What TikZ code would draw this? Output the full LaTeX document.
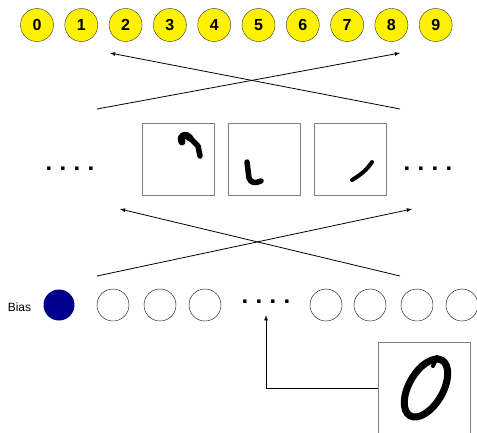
\documentclass[tikz,border=0pt]{standalone}
\usepackage{fontspec}
\setmainfont{Liberation Sans}
\usepackage{tikz}
\usetikzlibrary{shapes,arrows,positioning}

\newcommand{\dotrow}{\fontsize{24}{24}\selectfont\bfseries .\hspace{7.3pt}.\hspace{7.3pt}.\hspace{7.3pt}.}

\begin{document}
\begin{tikzpicture}[
    x=1pt, y=-1pt,
    digit/.style={circle, draw=black!80, fill=yellow, minimum size=33pt, inner sep=0pt, font=\fontsize{16}{16}\selectfont\bfseries},
    unit/.style={circle, draw, minimum size=32pt, inner sep=0pt},
    bias/.style={circle, fill=blue!55!black, minimum size=31pt, inner sep=0pt},
    fmap/.style={rectangle, draw=gray, minimum size=72pt, inner sep=0pt},
    dots/.style={anchor=base, inner sep=0pt},
    stroke/.style={line width=5.5pt, line cap=round, line join=round},
    arrow/.style={-latex, thick}
]
    \useasboundingbox (0,0) rectangle (477,432);
    \clip (0,0) rectangle (477,432);

    % Output classes
    \foreach \d in {0,...,9}
        \node[digit] (out\d) at (37+44.3*\d,25) {\d};

    % Feature maps
    \node[fmap] (fmap1) at (178,159) {};
    \node[fmap] (fmap2) at (264,159) {};
    \node[fmap] (fmap3) at (350,159) {};
    \node[dots] (ldots) at (70,170) {\dotrow};
    \node[dots] (rdots) at (428,170) {\dotrow};

    \draw[stroke, line width=7pt] (182,142) .. controls (179,135) and (186,133) .. (190,138);
    \draw[stroke] (190,138) -- (198,146) -- (200,156);
    \draw[stroke] (247,162) -- (249,178) .. controls (251,184) and (256,183) .. (261,181);
    \draw[stroke, line width=4pt] (352,180) .. controls (360,175) and (366,171) .. (372,162);

    % Input units
    \node (biaslabel) at (19.5,307) {\fontsize{12}{12}\selectfont Bias};
    \node[bias] (b) at (59,305) {};
    \foreach \x [count=\i] in {113,160,205,326,370,417,462}
        \node[unit] (in\i) at (\x,305) {};
    \node[dots] (mdots) at (266,303) {\dotrow};

    % Input image
    \node[fmap, minimum size=92pt] (img) at (424,388) {};
    \draw[line width=7pt] (426,388) ellipse [x radius=32pt, y radius=17pt, rotate=60];
    \draw[stroke, line width=4pt] (433,366) -- (437,357);

    % Connections
    \coordinate (t1) at (97,109);
    \coordinate (t2) at (400,109);
    \coordinate (h1) at (110,53);
    \coordinate (h2) at (400,53);
    \draw[arrow] (t1) -- (h2);
    \draw[arrow] (t2) -- (h1);

    \coordinate (s1) at (97,276);
    \coordinate (s2) at (400,276);
    \coordinate (g1) at (120,209);
    \coordinate (g2) at (412,209);
    \draw[arrow] (s1) -- (g2);
    \draw[arrow] (s2) -- (g1);

    \draw[arrow] (img.west) -| ([yshift=-12pt]mdots.south);
\end{tikzpicture}
\end{document}
